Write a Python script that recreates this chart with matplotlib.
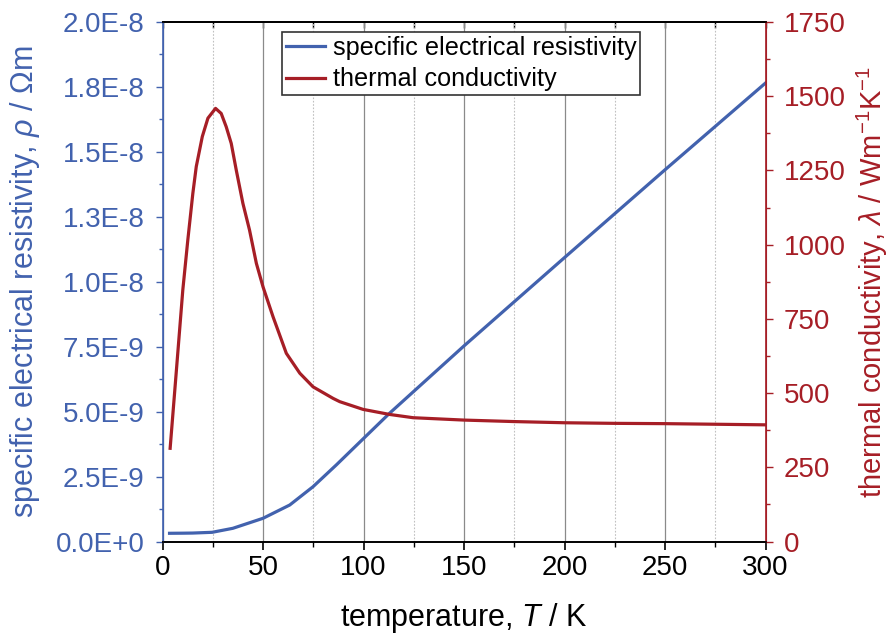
import matplotlib
matplotlib.use("Agg")
import matplotlib.pyplot as plt
from matplotlib.ticker import MultipleLocator

plt.rcParams['font.family'] = ['Liberation Sans', 'DejaVu Sans']
plt.rcParams['mathtext.fontset'] = 'custom'
plt.rcParams['mathtext.rm'] = 'Liberation Sans'
plt.rcParams['mathtext.it'] = 'Liberation Sans:italic'
plt.rcParams['mathtext.bf'] = 'Liberation Sans:bold'

# ---- data ----
T_rho = [3.5, 10, 15, 24.7, 35, 50, 63.3, 74.9, 86.5, 99.8, 113, 131, 150, 200, 250, 300]
rho = [3.16e-10, 3.2e-10, 3.25e-10, 3.54e-10, 5.08e-10, 8.93e-10, 1.405e-9, 2.11e-9,
       2.95e-9, 3.95e-9, 4.94e-9, 6.2e-9, 7.53e-9, 1.093e-8, 1.431e-8, 1.765e-8]

T_lam = [3.8, 6.8, 10.1, 12.6, 15.1, 16.8, 19.8, 22.6, 26.4, 29.2, 31.7, 34.2, 36.7,
         40, 43.3, 46.7, 50, 55, 61.6, 68.3, 74.9, 84.9, 88.2, 99.8, 113, 124.7,
         150, 175, 200, 225, 250, 275, 300]
lam = [314, 567, 847, 1016, 1173, 1263, 1364, 1426, 1459, 1442, 1397, 1341, 1251,
       1139, 1049, 937, 858, 757, 634, 567, 521, 482, 471, 445, 428, 417,
       409, 404, 400, 398, 397, 395, 393]

rho_ticks = [0, 2.5e-9, 5.0e-9, 7.5e-9, 1.0e-8, 1.25e-8, 1.5e-8, 1.75e-8, 2.0e-8]
rho_ticklabels = ['0.0E+0', '2.5E-9', '5.0E-9', '7.5E-9', '1.0E-8', '1.3E-8',
                  '1.5E-8', '1.8E-8', '2.0E-8']
lam_ticks = [0, 250, 500, 750, 1000, 1250, 1500, 1750]
T_ticks = [0, 50, 100, 150, 200, 250, 300]

BLUE = '#4262ae'
RED = '#a61e26'

fig = plt.figure(figsize=(8.91, 6.35), dpi=100)
ax = fig.add_axes([162.5/891, 1-541.5/635, (765.5-162.5)/891, (541.5-22)/635])
ax2 = ax.twinx()

l1, = ax.plot(T_rho, rho, color=BLUE, lw=2.3, label='specific electrical resistivity', zorder=3)
l2, = ax2.plot(T_lam, lam, color=RED, lw=2.3, label='thermal conductivity', zorder=3)

ax.set_xlim(0, 300)
ax.set_ylim(0, 2.0e-8)
ax2.set_ylim(0, 1750)

ax.set_xticks(T_ticks)
ax.xaxis.set_minor_locator(MultipleLocator(25))
ax.set_yticks(rho_ticks)
ax.set_yticklabels(rho_ticklabels)
ax.yaxis.set_minor_locator(MultipleLocator(1.25e-9))
ax2.set_yticks(lam_ticks)
ax2.yaxis.set_minor_locator(MultipleLocator(125))

ax.grid(True, which='major', axis='x', color='#8a8a8a', lw=0.9, ls='-', zorder=0)
ax.grid(True, which='minor', axis='x', color='#c0c0c0', lw=0.8, ls=(0, (1.5, 1.5)), zorder=0)
ax.set_axisbelow(True)

fs_tick = 20
ax.tick_params(axis='x', which='both', top=False, labelsize=fs_tick, colors='black')
ax.tick_params(axis='x', which='major', direction='out', length=6, width=1.2, pad=4)
ax.tick_params(axis='x', which='minor', direction='out', length=3.5, width=1.0)
ax.tick_params(axis='y', which='major', direction='out', length=5, width=1.0,
               colors=BLUE, labelsize=fs_tick, labelcolor=BLUE, pad=8)
ax.tick_params(axis='y', which='minor', direction='out', length=3, width=1.0, colors=BLUE)
ax2.tick_params(axis='y', which='major', direction='out', length=5, width=1.0,
                colors=RED, labelsize=fs_tick, labelcolor=RED, pad=8)
ax2.tick_params(axis='y', which='minor', direction='out', length=3, width=1.0, colors=RED)

# top axis: inward ticks, no labels
sec = ax.secondary_xaxis('top')
sec.set_xticks(T_ticks)
sec.xaxis.set_minor_locator(MultipleLocator(25))
sec.tick_params(axis='x', which='both', direction='in', length=4, width=1.0,
                labeltop=False, colors='black')
sec.spines['top'].set_linewidth(1.2)

for a in (ax, ax2):
    a.spines['top'].set_color('black')
    a.spines['bottom'].set_color('black')
    a.spines['top'].set_linewidth(1.2)
    a.spines['bottom'].set_linewidth(1.2)
ax.spines['left'].set_color(BLUE)
ax2.spines['left'].set_color(BLUE)
ax2.spines['right'].set_color(RED)
ax.spines['right'].set_color(RED)
ax.spines['left'].set_linewidth(1.2)
ax2.spines['right'].set_linewidth(1.2)

ax.set_xlabel(r'temperature, $T$ / K', fontsize=22, labelpad=14)
ax.set_ylabel(r'specific electrical resistivity, $\rho$ / $\Omega$m', fontsize=22,
              color=BLUE)
ax.yaxis.set_label_coords((42 - 162.5) / 603, 0.5)
ax2.set_ylabel(r'thermal conductivity, $\lambda$ / Wm$^{-1}$K$^{-1}$', fontsize=21,
               color=RED)
ax2.yaxis.set_label_coords((855 - 162.5) / 603, 0.5)

leg = ax2.legend(handles=[l1, l2], loc='upper left', bbox_to_anchor=(282/891, 1-32/635),
                 bbox_transform=fig.transFigure, fontsize=18.2, frameon=True, fancybox=False,
                 handlelength=1.55, handletextpad=0.3, borderpad=0.15, labelspacing=0.3,
                 borderaxespad=0, framealpha=1)
leg.get_frame().set_edgecolor('#333333')
leg.get_frame().set_linewidth(1.2)

fig.savefig('out.png', dpi=100)
